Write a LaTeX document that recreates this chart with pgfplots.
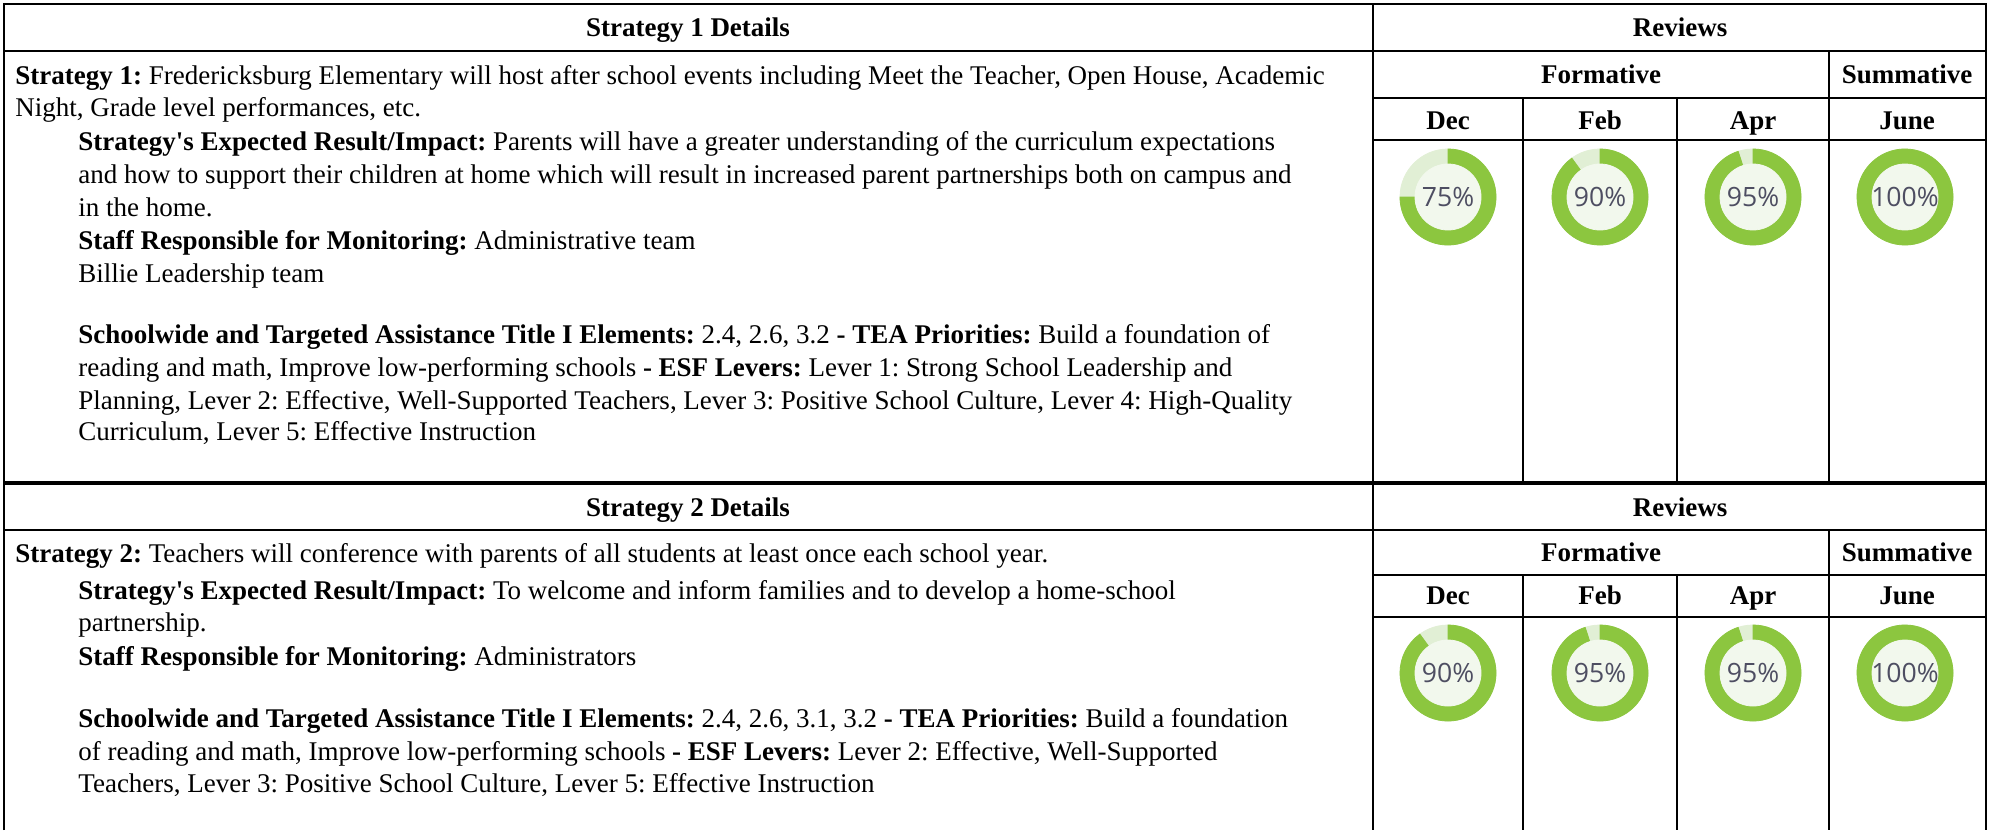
\documentclass[border=0pt]{standalone}
\usepackage{fontspec}
\setmainfont{Liberation Serif}
\newfontfamily\pctfont{Open Sans}
\usepackage{pgfplots}
\usepackage{pgfplotstable}
\pgfplotsset{compat=1.18}
\definecolor{ringgreen}{RGB}{140,198,63}
\definecolor{ringlight}{RGB}{225,239,213}
\definecolor{centerfill}{RGB}{242,248,237}
\definecolor{pcttext}{RGB}{78,78,98}
\pgfplotstableread{
x y v
1448 197 75
1600 197 90
1753 197 95
1905 197 100
}\stratone
\pgfplotstableread{
x y v
1448 673 90
1600 673 95
1753 673 95
1905 673 100
}\strattwo
\pgfdeclareplotmark{donut}{%
  \pgfmathsetmacro\donutang{90-3.6*\val}%
  \pgfmathtruncatemacro\donutpct{\val}%
  \fill[ringlight] (0pt,0pt) circle[radius=24pt];
  \fill[ringgreen] (0pt,0pt) -- (0pt,24pt) arc[start angle=90,end angle=\donutang,radius=24pt] -- cycle;
  \fill[centerfill] (0pt,0pt) circle[radius=16.5pt];
  \node[inner sep=0pt,text=pcttext,font=\pctfont\fontsize{13.3}{15}\selectfont] at (0pt,0pt) {\donutpct\%};
}
\tikzset{
  body/.style={anchor=west,inner sep=0pt,text height=9.5pt,text depth=3pt,yshift=-1.5pt,font=\fontsize{13.5}{16}\selectfont},
  head/.style={inner sep=0pt,text height=9.5pt,text depth=3pt,yshift=-1pt,font=\fontsize{13.5}{16}\selectfont\bfseries},
}
\begin{document}
\frenchspacing
\begin{tikzpicture}
\begin{axis}[
  width=995pt, height=415pt, scale only axis,
  xmin=0, xmax=1990, ymin=0, ymax=830, y dir=reverse,
  hide axis, clip=false,
]
\path (axis cs:0,0) rectangle (axis cs:1990,830);
% grid lines
\draw[line width=1pt] (axis cs:4,830) -- (axis cs:4,4) -- (axis cs:1986,4) -- (axis cs:1986,830);
\draw[line width=1pt] (axis cs:1373,4) -- (axis cs:1373,830);
\draw[line width=1.1pt] (axis cs:4,51) -- (axis cs:1986,51);
\draw[line width=1pt] (axis cs:1373,98) -- (axis cs:1986,98);
\draw[line width=1pt] (axis cs:1373,140) -- (axis cs:1986,140);
\draw[line width=1pt] (axis cs:1829,51) -- (axis cs:1829,483);
\draw[line width=1pt] (axis cs:1523,98) -- (axis cs:1523,483);
\draw[line width=1pt] (axis cs:1677,98) -- (axis cs:1677,483);
\draw[line width=1.8pt] (axis cs:4,483) -- (axis cs:1986,483);
\draw[line width=1.1pt] (axis cs:4,530) -- (axis cs:1986,530);
\draw[line width=1pt] (axis cs:1373,575) -- (axis cs:1986,575);
\draw[line width=1pt] (axis cs:1373,617) -- (axis cs:1986,617);
\draw[line width=1pt] (axis cs:1829,530) -- (axis cs:1829,830);
\draw[line width=1pt] (axis cs:1523,575) -- (axis cs:1523,830);
\draw[line width=1pt] (axis cs:1677,575) -- (axis cs:1677,830);
% headers
\node[head] at (axis cs:688,28) {Strategy 1 Details};
\node[head] at (axis cs:1680,28) {Reviews};
\node[head] at (axis cs:1601,75) {Formative};
\node[head] at (axis cs:1907,75) {Summative};
\node[head] at (axis cs:1448,121) {Dec};
\node[head] at (axis cs:1600,121) {Feb};
\node[head] at (axis cs:1753,121) {Apr};
\node[head] at (axis cs:1907,121) {June};
\node[head] at (axis cs:688,508) {Strategy 2 Details};
\node[head] at (axis cs:1680,508) {Reviews};
\node[head] at (axis cs:1601,553) {Formative};
\node[head] at (axis cs:1907,553) {Summative};
\node[head] at (axis cs:1448,596) {Dec};
\node[head] at (axis cs:1600,596) {Feb};
\node[head] at (axis cs:1753,596) {Apr};
\node[head] at (axis cs:1907,596) {June};
% strategy 1 text
\node[body] at (axis cs:15,75) {\textbf{Strategy 1:} Fredericksburg Elementary will host after school events including Meet the Teacher, Open House, Academic};
\node[body] at (axis cs:15,107) {Night, Grade level performances, etc.};
\node[body] at (axis cs:78,141) {\textbf{Strategy\textquotesingle s Expected Result/Impact:} Parents will have a greater understanding of the curriculum expectations};
\node[body] at (axis cs:78,174) {and how to support their children at home which will result in increased parent partnerships both on campus and};
\node[body] at (axis cs:78,207) {in the home.};
\node[body] at (axis cs:78,240) {\textbf{Staff Responsible for Monitoring:} Administrative team};
\node[body] at (axis cs:78,273) {Billie Leadership team};
\node[body] at (axis cs:78,334) {\textbf{Schoolwide and Targeted Assistance Title I Elements:} 2.4, 2.6, 3.2 \textbf{- TEA Priorities:} Build a foundation of};
\node[body] at (axis cs:78,367) {reading and math, Improve low-performing schools \textbf{- ESF Levers:} Lever 1: Strong School Leadership and};
\node[body] at (axis cs:78,400) {Planning, Lever 2: Effective, Well-Supported Teachers, Lever 3: Positive School Culture, Lever 4: High-Quality};
\node[body] at (axis cs:78,431) {Curriculum, Lever 5: Effective Instruction};
% strategy 2 text
\node[body] at (axis cs:15,553) {\textbf{Strategy 2:} Teachers will conference with parents of all students at least once each school year.};
\node[body] at (axis cs:78,590) {\textbf{Strategy\textquotesingle s Expected Result/Impact:} To welcome and inform families and to develop a home-school};
\node[body] at (axis cs:78,622) {partnership.};
\node[body] at (axis cs:78,656) {\textbf{Staff Responsible for Monitoring:} Administrators};
\node[body] at (axis cs:78,718) {\textbf{Schoolwide and Targeted Assistance Title I Elements:} 2.4, 2.6, 3.1, 3.2 \textbf{- TEA Priorities:} Build a foundation};
\node[body] at (axis cs:78,751) {of reading and math, Improve low-performing schools \textbf{- ESF Levers:} Lever 2: Effective, Well-Supported};
\node[body] at (axis cs:78,783) {Teachers, Lever 3: Positive School Culture, Lever 5: Effective Instruction};
% donuts
\addplot[only marks, mark=donut, visualization depends on={\thisrow{v}\as\val}] table[x=x,y=y] {\stratone};
\addplot[only marks, mark=donut, visualization depends on={\thisrow{v}\as\val}] table[x=x,y=y] {\strattwo};
\end{axis}
\end{tikzpicture}
\end{document}
